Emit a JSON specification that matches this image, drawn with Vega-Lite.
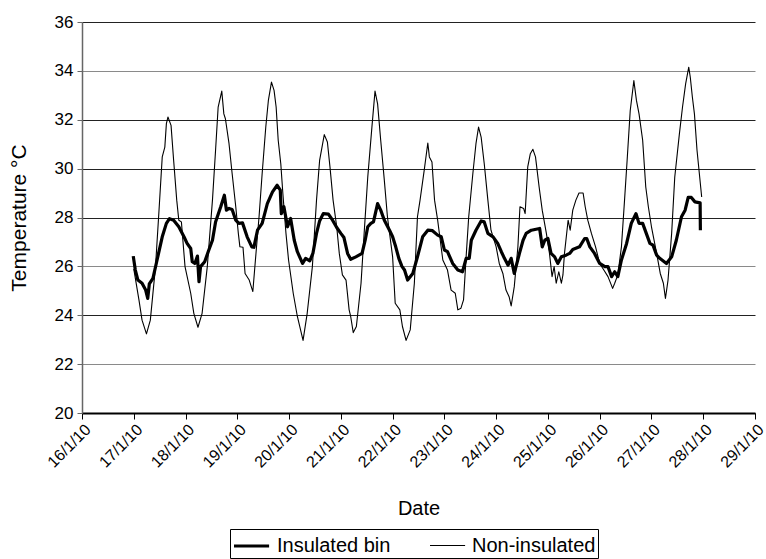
{
  "$schema": "https://vega.github.io/schema/vega-lite/v6.json",
  "width": 673,
  "height": 391,
  "autosize": "none",
  "padding": {"left": 82, "top": 22, "right": 11, "bottom": 146},
  "background": "white",
  "config": {"font": "Liberation Sans", "view": {"stroke": null}},
  "datasets": {
    "ins": [
      {"day":16.99,"temp":26.42},{"day":17.03,"temp":25.85},{"day":17.08,"temp":25.44},{"day":17.16,"temp":25.31},{"day":17.23,"temp":25.03},{"day":17.27,"temp":24.69},{"day":17.30,"temp":25.28},{"day":17.37,"temp":25.51},{"day":17.45,"temp":26.26},{"day":17.55,"temp":27.21},{"day":17.63,"temp":27.76},{"day":17.69,"temp":27.95},{"day":17.77,"temp":27.89},{"day":17.87,"temp":27.62},{"day":17.97,"temp":27.21},{"day":18.03,"temp":26.94},{"day":18.10,"temp":26.73},{"day":18.13,"temp":26.19},{"day":18.18,"temp":26.12},{"day":18.23,"temp":26.42},{"day":18.26,"temp":25.37},{"day":18.29,"temp":25.99},{"day":18.37,"temp":26.19},{"day":18.45,"temp":26.67},{"day":18.52,"temp":27.07},{"day":18.58,"temp":27.82},{"day":18.68,"temp":28.44},{"day":18.75,"temp":28.91},{"day":18.79,"temp":28.3},{"day":18.84,"temp":28.37},{"day":18.90,"temp":28.33},{"day":18.97,"temp":27.89},{"day":19.03,"temp":27.76},{"day":19.10,"temp":27.78},{"day":19.19,"temp":27.21},{"day":19.28,"temp":26.8},{"day":19.32,"temp":26.78},{"day":19.39,"temp":27.48},{"day":19.48,"temp":27.76},{"day":19.58,"temp":28.57},{"day":19.68,"temp":29.05},{"day":19.77,"temp":29.32},{"day":19.83,"temp":29.12},{"day":19.85,"temp":28.16},{"day":19.90,"temp":28.44},{"day":19.97,"temp":27.62},{"day":20.03,"temp":27.96},{"day":20.10,"temp":27.07},{"day":20.16,"temp":26.6},{"day":20.26,"temp":26.12},{"day":20.32,"temp":26.33},{"day":20.40,"temp":26.23},{"day":20.46,"temp":26.53},{"day":20.53,"temp":27.35},{"day":20.59,"temp":27.86},{"day":20.66,"temp":28.16},{"day":20.76,"temp":28.14},{"day":20.84,"temp":27.89},{"day":20.92,"temp":27.59},{"day":21.00,"temp":27.35},{"day":21.06,"temp":27.18},{"day":21.13,"temp":26.53},{"day":21.19,"temp":26.29},{"day":21.29,"temp":26.39},{"day":21.41,"temp":26.53},{"day":21.47,"temp":27.07},{"day":21.52,"temp":27.62},{"day":21.58,"temp":27.76},{"day":21.63,"temp":27.82},{"day":21.71,"temp":28.57},{"day":21.77,"temp":28.3},{"day":21.84,"temp":27.89},{"day":21.94,"temp":27.48},{"day":22.00,"temp":27.21},{"day":22.06,"temp":26.8},{"day":22.12,"temp":26.33},{"day":22.18,"temp":26.0},{"day":22.23,"temp":25.85},{"day":22.29,"temp":25.44},{"day":22.39,"temp":25.71},{"day":22.48,"temp":26.39},{"day":22.58,"temp":27.21},{"day":22.68,"temp":27.48},{"day":22.77,"temp":27.46},{"day":22.87,"temp":27.28},{"day":22.94,"temp":27.21},{"day":23.00,"temp":26.67},{"day":23.06,"temp":26.6},{"day":23.16,"temp":26.12},{"day":23.26,"temp":25.85},{"day":23.35,"temp":25.78},{"day":23.42,"temp":26.33},{"day":23.48,"temp":26.33},{"day":23.52,"temp":27.07},{"day":23.61,"temp":27.48},{"day":23.71,"temp":27.86},{"day":23.77,"temp":27.82},{"day":23.84,"temp":27.35},{"day":23.94,"temp":27.21},{"day":24.03,"temp":26.94},{"day":24.10,"temp":26.6},{"day":24.16,"temp":26.33},{"day":24.23,"temp":26.05},{"day":24.29,"temp":26.33},{"day":24.35,"temp":25.71},{"day":24.45,"temp":26.53},{"day":24.52,"temp":27.07},{"day":24.58,"temp":27.35},{"day":24.68,"temp":27.48},{"day":24.84,"temp":27.55},{"day":24.89,"temp":26.8},{"day":24.94,"temp":27.07},{"day":25.00,"temp":27.14},{"day":25.06,"temp":26.53},{"day":25.13,"temp":26.39},{"day":25.19,"temp":26.12},{"day":25.26,"temp":26.39},{"day":25.35,"temp":26.46},{"day":25.42,"temp":26.53},{"day":25.48,"temp":26.69},{"day":25.61,"temp":26.8},{"day":25.71,"temp":27.14},{"day":25.75,"temp":27.14},{"day":25.81,"temp":26.8},{"day":25.90,"temp":26.53},{"day":26.00,"temp":26.12},{"day":26.10,"temp":25.99},{"day":26.16,"temp":25.99},{"day":26.23,"temp":25.58},{"day":26.29,"temp":25.78},{"day":26.35,"temp":25.58},{"day":26.42,"temp":26.26},{"day":26.52,"temp":26.94},{"day":26.61,"temp":27.76},{"day":26.70,"temp":28.16},{"day":26.76,"temp":27.76},{"day":26.83,"temp":27.76},{"day":26.90,"temp":27.35},{"day":26.97,"temp":26.94},{"day":27.03,"temp":26.87},{"day":27.10,"temp":26.46},{"day":27.16,"temp":26.33},{"day":27.29,"temp":26.12},{"day":27.39,"temp":26.39},{"day":27.48,"temp":27.07},{"day":27.58,"temp":28.03},{"day":27.65,"temp":28.3},{"day":27.71,"temp":28.82},{"day":27.77,"temp":28.82},{"day":27.84,"temp":28.64},{"day":27.94,"temp":28.6},{"day":27.945,"temp":27.48}
    ],
    "non": [
      {"day":17.0,"temp":25.9},{"day":17.10,"temp":24.63},{"day":17.16,"temp":23.8},{"day":17.245,"temp":23.24},{"day":17.32,"temp":23.8},{"day":17.42,"temp":25.99},{"day":17.48,"temp":28.03},{"day":17.55,"temp":30.48},{"day":17.60,"temp":30.88},{"day":17.63,"temp":31.84},{"day":17.66,"temp":32.11},{"day":17.72,"temp":31.77},{"day":17.77,"temp":30.34},{"day":17.83,"temp":28.71},{"day":17.87,"temp":27.89},{"day":17.92,"temp":27.82},{"day":17.99,"temp":25.99},{"day":18.10,"temp":24.9},{"day":18.16,"temp":24.08},{"day":18.24,"temp":23.51},{"day":18.32,"temp":24.08},{"day":18.42,"temp":25.99},{"day":18.52,"temp":28.71},{"day":18.58,"temp":30.75},{"day":18.63,"temp":32.52},{"day":18.70,"temp":33.17},{"day":18.74,"temp":32.24},{"day":18.77,"temp":32.04},{"day":18.84,"temp":31.02},{"day":18.90,"temp":29.8},{"day":18.97,"temp":28.44},{"day":19.02,"temp":27.35},{"day":19.05,"temp":26.8},{"day":19.11,"temp":26.78},{"day":19.15,"temp":25.71},{"day":19.23,"temp":25.44},{"day":19.30,"temp":24.97},{"day":19.35,"temp":26.26},{"day":19.42,"temp":28.03},{"day":19.48,"temp":29.8},{"day":19.55,"temp":31.7},{"day":19.60,"temp":32.79},{"day":19.66,"temp":33.54},{"day":19.71,"temp":33.2},{"day":19.75,"temp":32.52},{"day":19.79,"temp":31.16},{"day":19.84,"temp":30.2},{"day":19.88,"temp":28.98},{"day":19.94,"temp":27.35},{"day":19.99,"temp":26.26},{"day":20.08,"temp":24.9},{"day":20.16,"temp":23.95},{"day":20.27,"temp":22.97},{"day":20.35,"temp":24.08},{"day":20.45,"temp":25.99},{"day":20.53,"temp":28.71},{"day":20.59,"temp":30.34},{"day":20.68,"temp":31.39},{"day":20.74,"temp":31.09},{"day":20.79,"temp":30.07},{"day":20.85,"temp":28.71},{"day":20.92,"temp":27.62},{"day":20.97,"temp":26.53},{"day":21.03,"temp":25.65},{"day":21.10,"temp":25.44},{"day":21.16,"temp":24.22},{"day":21.19,"temp":23.95},{"day":21.24,"temp":23.29},{"day":21.30,"temp":23.54},{"day":21.39,"temp":25.31},{"day":21.45,"temp":27.35},{"day":21.52,"temp":29.66},{"day":21.60,"temp":31.7},{"day":21.66,"temp":33.17},{"day":21.71,"temp":32.65},{"day":21.77,"temp":31.16},{"day":21.84,"temp":29.52},{"day":21.90,"temp":28.03},{"day":22.00,"temp":26.39},{"day":22.05,"temp":24.49},{"day":22.14,"temp":24.22},{"day":22.19,"temp":23.54},{"day":22.26,"temp":22.97},{"day":22.34,"temp":23.4},{"day":22.42,"temp":25.31},{"day":22.48,"temp":28.03},{"day":22.53,"temp":28.71},{"day":22.61,"temp":29.93},{"day":22.68,"temp":31.05},{"day":22.71,"temp":30.48},{"day":22.76,"temp":30.27},{"day":22.81,"temp":28.71},{"day":22.87,"temp":27.89},{"day":22.92,"temp":27.07},{"day":22.97,"temp":26.26},{"day":23.06,"temp":25.85},{"day":23.13,"temp":25.03},{"day":23.21,"temp":24.9},{"day":23.26,"temp":24.22},{"day":23.32,"temp":24.29},{"day":23.37,"temp":24.63},{"day":23.42,"temp":26.39},{"day":23.47,"temp":28.03},{"day":23.55,"temp":29.8},{"day":23.61,"temp":31.02},{"day":23.66,"temp":31.7},{"day":23.71,"temp":31.29},{"day":23.77,"temp":30.2},{"day":23.84,"temp":28.71},{"day":23.90,"temp":27.48},{"day":24.00,"temp":26.8},{"day":24.06,"temp":26.12},{"day":24.13,"temp":25.71},{"day":24.19,"temp":25.03},{"day":24.25,"temp":24.76},{"day":24.29,"temp":24.38},{"day":24.35,"temp":25.17},{"day":24.42,"temp":26.8},{"day":24.46,"temp":28.44},{"day":24.53,"temp":28.37},{"day":24.56,"temp":28.16},{"day":24.61,"temp":30.07},{"day":24.66,"temp":30.61},{"day":24.71,"temp":30.79},{"day":24.76,"temp":30.48},{"day":24.83,"temp":29.25},{"day":24.89,"temp":28.3},{"day":24.97,"temp":27.35},{"day":25.03,"temp":26.53},{"day":25.08,"temp":25.58},{"day":25.12,"temp":25.99},{"day":25.16,"temp":25.31},{"day":25.21,"temp":25.78},{"day":25.26,"temp":25.31},{"day":25.29,"temp":25.65},{"day":25.32,"temp":26.53},{"day":25.39,"temp":27.89},{"day":25.43,"temp":27.48},{"day":25.48,"temp":28.3},{"day":25.54,"temp":28.71},{"day":25.60,"temp":29.0},{"day":25.68,"temp":29.0},{"day":25.72,"temp":28.44},{"day":25.77,"temp":27.89},{"day":25.84,"temp":27.35},{"day":25.92,"temp":26.8},{"day":26.00,"temp":26.12},{"day":26.08,"temp":25.85},{"day":26.16,"temp":25.58},{"day":26.25,"temp":25.1},{"day":26.29,"temp":25.31},{"day":26.35,"temp":25.65},{"day":26.42,"temp":26.8},{"day":26.48,"temp":28.71},{"day":26.53,"temp":30.34},{"day":26.59,"temp":32.38},{"day":26.66,"temp":33.6},{"day":26.71,"temp":32.79},{"day":26.76,"temp":32.24},{"day":26.83,"temp":31.16},{"day":26.89,"temp":29.25},{"day":26.94,"temp":28.44},{"day":27.00,"temp":27.62},{"day":27.10,"temp":26.53},{"day":27.17,"temp":25.71},{"day":27.23,"temp":25.31},{"day":27.27,"temp":24.69},{"day":27.32,"temp":25.44},{"day":27.39,"temp":27.35},{"day":27.45,"temp":29.66},{"day":27.54,"temp":31.43},{"day":27.60,"temp":32.52},{"day":27.66,"temp":33.47},{"day":27.72,"temp":34.15},{"day":27.75,"temp":33.74},{"day":27.79,"temp":32.93},{"day":27.83,"temp":32.24},{"day":27.88,"temp":30.75},{"day":27.97,"temp":28.84}
    ]
  },
  "layer": [
    {
      "data": {"name": "non"},
      "transform": [{"calculate": "'Non-insulated'", "as": "series"}],
      "mark": {"type": "line", "color": "black", "strokeJoin": "round"},
      "encoding": {
        "x": {"field": "day", "type": "quantitative"},
        "y": {"field": "temp", "type": "quantitative"},
        "strokeWidth": {"field": "series", "type": "nominal"}
      }
    },
    {
      "data": {"name": "ins"},
      "transform": [{"calculate": "'Insulated bin'", "as": "series"}],
      "mark": {"type": "line", "color": "black", "strokeJoin": "round"},
      "encoding": {
        "x": {"field": "day", "type": "quantitative"},
        "y": {"field": "temp", "type": "quantitative"},
        "strokeWidth": {"field": "series", "type": "nominal"}
      }
    }
  ],
  "encoding": {
    "x": {
      "field": "day", "type": "quantitative",
      "scale": {"domain": [16, 29], "nice": false, "zero": false},
      "axis": {
        "title": "Date", "values": [16,17,18,19,20,21,22,23,24,25,26,27,28,29],
        "labelExpr": "datum.value + '/1/10'", "labelAngle": -45, "grid": false,
        "domainColor": "black", "domainWidth": 2, "tickColor": "black", "tickSize": 6,
        "labelFontSize": 16, "titleFontSize": 20, "labelColor": "black", "titleColor": "black",
        "titleFontWeight": "normal", "labelPadding": 2, "titlePadding": 28, "labelFlush": false, "labelOverlap": false
      }
    },
    "y": {
      "field": "temp", "type": "quantitative",
      "scale": {"domain": [20, 36], "nice": false, "zero": false},
      "axis": {
        "title": "Temperature °C", "values": [20,22,24,26,28,30,32,34,36],
        "grid": true,
        "gridColor": {"condition": {"test": "datum.value === 34 || datum.value === 26 || datum.value === 22", "value": "#8a8a8a"}, "value": "#222222"},
        "gridWidth": 1,
        "domainColor": "#666", "domainWidth": 1.5, "tickColor": "#666", "tickSize": 5,
        "labelFontSize": 17, "titleFontSize": 21, "labelColor": "black", "titleColor": "black",
        "titleFontWeight": "normal", "labelPadding": 4, "titlePadding": 25, "labelFlush": false
      }
    },
    "strokeWidth": {
      "field": "series", "type": "nominal",
      "scale": {"domain": ["Insulated bin", "Non-insulated"], "range": [3.2, 1.1]},
      "legend": {
        "title": null, "orient": "none", "legendX": 148, "legendY": 507, "direction": "horizontal",
        "symbolType": "M-1,0H1.7", "symbolSize": 676, "symbolStrokeColor": "black",
        "strokeColor": "black", "padding": 2, "labelFontSize": 20, "labelColor": "black",
        "columnPadding": 36, "labelOffset": 15
      }
    }
  }
}
